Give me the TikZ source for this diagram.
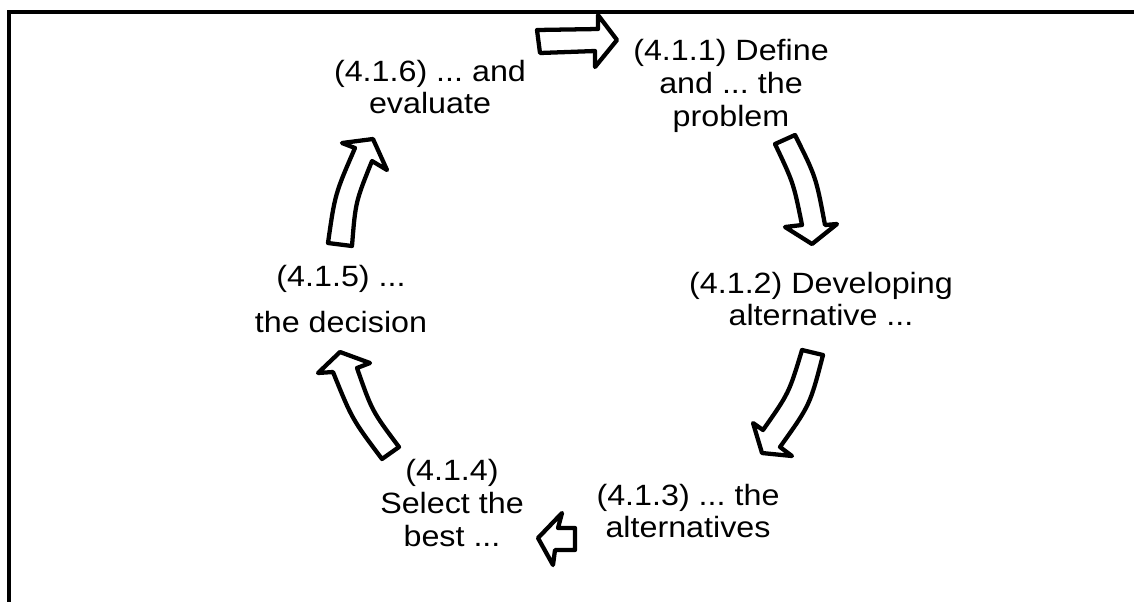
\documentclass[tikz,border=0pt]{standalone}
\usepackage{fontspec}
\newfontfamily\lblfont{Liberation Sans}[FakeStretch=1.1]
\frenchspacing
\begin{document}
\begin{tikzpicture}[x=0.75pt,y=-0.75pt,
  lbl/.style={font=\lblfont\fontsize{22}{24.5}\selectfont\frenchspacing, align=center, inner sep=0pt},
  blk/.style={draw=black, fill=white, line width=3.2pt, line join=round}]
\useasboundingbox (0,0) rectangle (1134,601);
% frame
\draw[line width=3pt] (9,610) -- (9,12) -- (1140,12);
% labels
\node[lbl] (n1) at (731,86) {(4.1.1) Define\\and ... the\\problem};
\node[lbl] (n2) at (821,299) {(4.1.2) Developing\\alternative ...};
\node[lbl] (n3) at (688,511) {(4.1.3) ... the\\alternatives};
\node[lbl] (n4) at (452,503) {(4.1.4)\\Select the\\best ...};
\node[lbl] (n5) at (341,299) {(4.1.5) ...\\[10pt]the decision};
\node[lbl] (n6) at (430,87) {(4.1.6) ... and\\evaluate};
% block arrows
\draw[blk] (537,30) -- (598,29) -- (598,15) -- (617,40) -- (595,67) -- (595,51) -- (540,53) -- cycle;
\draw[blk] (775,144) -- (795,135) .. controls (816,177) .. (825,225) -- (837,224) -- (812,244) -- (785,227) -- (802,225) .. controls (793.5,183) .. (775,144) -- cycle;
\draw[blk] (802,350) -- (823,355) .. controls (810,405) .. (780,447) -- (792,456) -- (762,453) -- (753,423) -- (763,430) .. controls (789,393) .. (802,350) -- cycle;
\draw[blk] (538,538) -- (562,513) -- (558,528) -- (575,528) -- (575,550) -- (555,550) -- (553,565) -- cycle;
\draw[blk] (382,459) -- (399,447) .. controls (372,411) .. (357,368) -- (370,363) -- (340,352) -- (318,373) -- (333,372) .. controls (352,419) .. (382,459) -- cycle;
\draw[blk] (328,243) -- (352,246) .. controls (355.5,202) .. (372,161) -- (387,170) -- (373,139) -- (342,143) -- (355,148) .. controls (335,194) .. (328,243) -- cycle;
\end{tikzpicture}
\end{document}
